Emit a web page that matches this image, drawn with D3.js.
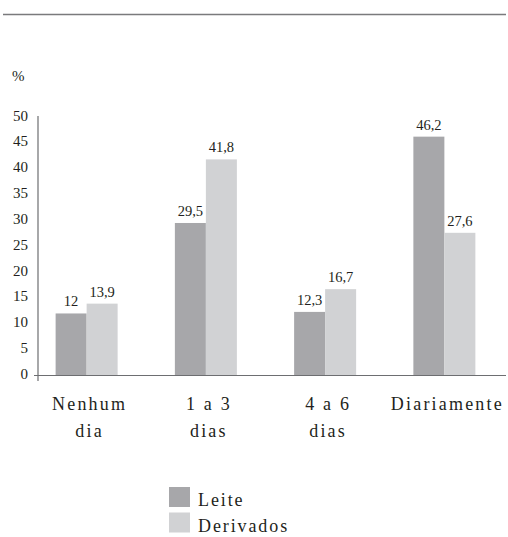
<!DOCTYPE html>
<html>
<head>
<meta charset="utf-8">
<script src="https://cdn.jsdelivr.net/npm/d3@7"></script>
<style>
  html, body { margin: 0; padding: 0; background: #fff; }
  svg { display: block; }
  text { font-family: "Liberation Serif", "DejaVu Serif", serif; fill: #231f20; }
</style>
</head>
<body>
<svg id="chart" width="508" height="537"></svg>
<script>
const categories = [["Nenhum", "dia"], ["1 a 3", "dias"], ["4 a 6", "dias"], ["Diariamente"]];
const series = ["Leite", "Derivados"];
const leite = [12, 29.5, 12.3, 46.2];
const derivados = [13.9, 41.8, 16.7, 27.6];
const yTicks = [0, 5, 10, 15, 20, 25, 30, 35, 40, 45, 50];
const colors = ["#a7a7aa", "#d1d2d4"];

const svg = d3.select("#chart");

// top rule
svg.append("line").attr("x1", 3).attr("x2", 506).attr("y1", 14.5).attr("y2", 14.5)
  .attr("stroke", "#7a7a7c").attr("stroke-width", 1.5);

const y0 = 375.5;
const y = d3.scaleLinear().domain([0, 50]).range([y0, 117]);
const catKeys = categories.map((c, i) => i);
const x = d3.scaleBand().domain(catKeys).range([27, 504]).paddingInner(0.48).paddingOuter(0.24);
const xs = d3.scaleBand().domain(series).range([0, x.bandwidth()]).padding(0);

const data = catKeys.map(i => ({i, vals: [leite[i], derivados[i]]}));

// bars
const g = svg.append("g");
const groups = g.selectAll("g.grp").data(data).join("g").attr("class", "grp")
  .attr("transform", d => `translate(${x(d.i)},0)`);
groups.selectAll("rect").data(d => d.vals.map((v, k) => ({v, s: series[k], k})))
  .join("rect")
  .attr("x", d => xs(d.s))
  .attr("width", xs.bandwidth())
  .attr("y", d => y(d.v))
  .attr("height", d => y0 - y(d.v))
  .attr("fill", d => colors[d.k]);

// value labels
groups.selectAll("text.val").data(d => d.vals.map((v, k) => ({v, s: series[k], k})))
  .join("text").attr("class", "val")
  .attr("x", d => xs(d.s) + xs.bandwidth() / 2)
  .attr("y", d => y(d.v) - 7)
  .attr("text-anchor", "middle")
  .attr("font-size", 14.5)
  .text(d => String(d.v).replace(".", ","));

// y axis
const yAxis = d3.axisLeft(y).tickValues(yTicks).tickSize(0).tickPadding(10)
  .tickFormat(d => String(d));
const ya = svg.append("g").attr("transform", "translate(38,0)").call(yAxis);
ya.attr("font-family", null);
ya.select(".domain").remove();
ya.selectAll("text").attr("font-size", 15).attr("fill", "#231f20").attr("dy", "0.2em");
svg.append("line").attr("x1", 38).attr("x2", 38).attr("y1", 116).attr("y2", 381)
  .attr("stroke", "#6d6e71").attr("stroke-width", 1.2);
svg.append("line").attr("x1", 34).attr("x2", 506).attr("y1", y0).attr("y2", y0)
  .attr("stroke", "#6d6e71").attr("stroke-width", 1.2);

// % label
svg.append("text").attr("x", 12).attr("y", 81).attr("font-size", 15).text("%");

// x labels
const xl = svg.append("g").selectAll("text").data(categories.map((c, i) => ({c, i}))).join("text")
  .attr("y", 410)
  .attr("text-anchor", "middle")
  .attr("font-size", 18)
  .attr("letter-spacing", "2.2px");
xl.selectAll("tspan").data(d => d.c.map((t, j) => ({t, j, x: x(d.i) + x.bandwidth() / 2 + 3})))
  .join("tspan")
  .attr("x", d => d.x)
  .attr("dy", d => d.j === 0 ? 0 : 27)
  .text(d => d.t);

// legend
const leg = svg.append("g");
series.forEach((s, k) => {
  leg.append("rect").attr("x", 169).attr("y", 487 + k * 25.5).attr("width", 21).attr("height", 20)
    .attr("fill", colors[k]);
  leg.append("text").attr("x", 198).attr("y", 506 + k * 25.5).attr("font-size", 18)
    .attr("letter-spacing", "1.9px").text(s);
});
</script>
</body>
</html>
